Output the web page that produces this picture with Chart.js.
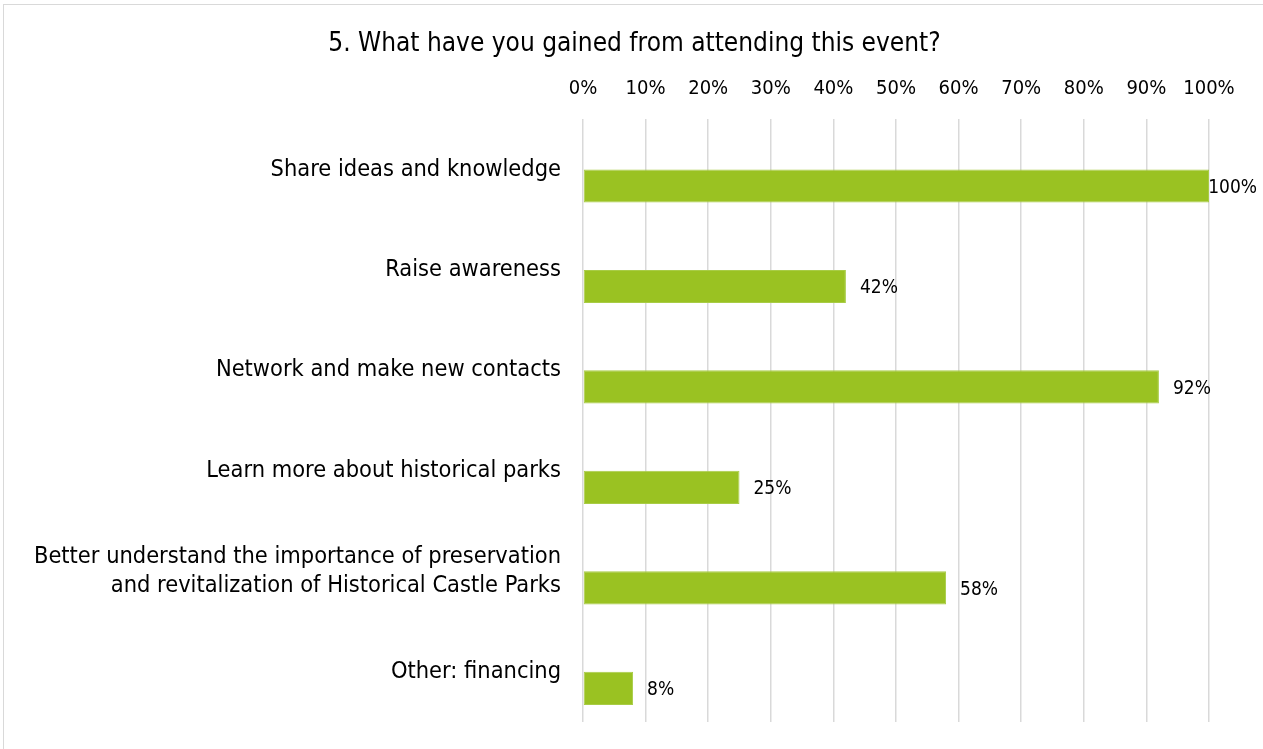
<!DOCTYPE html>
<html lang="en">
<head>
  <meta charset="UTF-8">
  <title>What have you gained from attending this event?</title>
  <script src="https://cdn.jsdelivr.net/npm/chart.js"></script>
  <style>
    html, body {
      margin: 0;
      padding: 0;
      background: #fff;
      overflow: hidden;
    }
    .frame {
      position: absolute;
      left: 3px;
      top: 4px;
      width: 1300px;
      height: 800px;
      border: 1px solid #d9d9d9;
    }
    .box {
      position: absolute;
      left: 0;
      top: 0;
      width: 1263px;
      height: 749px;
    }
  </style>
</head>
<body>
  <div class="frame"></div>
  <div class="box">
    <canvas id="grafico" width="1263" height="749"></canvas>
  </div>

  <script>
    const categorias = [
      'Share ideas and knowledge',
      'Raise awareness',
      'Network and make new contacts',
      'Learn more about historical parks',
      ['Better understand the importance of preservation', 'and revitalization of Historical Castle Parks'],
      'Other: financing'
    ];
    const percentagens = [100, 42, 92, 25, 58, 8];
    const vazio = [null, null, null, null, null, null];
    const ticksX = [0, 10, 20, 30, 40, 50, 60, 70, 80, 90, 100];

    const fonte = "'DejaVu Sans Condensed', 'DejaVu Sans', sans-serif";

    // rótulos de valor no fim de cada barra
    const rotulosValor = {
      id: 'rotulosValor',
      afterDatasetsDraw(chart) {
        const ctx = chart.ctx;
        const meta = chart.getDatasetMeta(1);
        ctx.save();
        ctx.font = '19px ' + fonte;
        ctx.fillStyle = '#000';
        ctx.textBaseline = 'middle';
        ctx.textAlign = 'left';
        meta.data.forEach((barra, i) => {
          const txt = percentagens[i] + '%';
          const w = ctx.measureText(txt).width;
          let x = barra.x + 14;
          if (x + w > chart.width - 6) x = chart.width - 6 - w;
          ctx.fillText(txt, x, barra.y + 2);
        });
        ctx.restore();
      }
    };

    new Chart(document.getElementById('grafico').getContext('2d'), {
      type: 'bar',
      data: {
        labels: categorias,
        datasets: [
          {
            label: 'vazio',
            data: vazio,
            backgroundColor: 'rgba(0,0,0,0)'
          },
          {
            label: 'Percentagem',
            data: percentagens,
            backgroundColor: '#9AC222',
            borderColor: '#A8CC45',
            borderWidth: 1,
            borderSkipped: false
          }
        ]
      },
      options: {
        indexAxis: 'y',
        responsive: false,
        animation: false,
        maintainAspectRatio: false,
        categoryPercentage: 0.66,
        barPercentage: 1,
        layout: {
          padding: { left: 6, right: 0, top: 0, bottom: 27 }
        },
        plugins: {
          legend: { display: false },
          tooltip: { enabled: false },
          title: {
            display: true,
            text: '5. What have you gained from attending this event?',
            color: '#000',
            font: { family: fonte, size: 26, weight: 'normal', lineHeight: 1.2 },
            padding: { top: 29, bottom: 17 }
          }
        },
        scales: {
          x: {
            position: 'top',
            min: 0,
            max: 100,
            afterBuildTicks(scale) {
              scale.ticks = ticksX.map(v => ({ value: v }));
            },
            afterFit(scale) {
              scale.height = 42;
            },
            grid: {
              color: '#d9d9d9',
              lineWidth: 1.5,
              drawTicks: false
            },
            border: { display: false },
            ticks: {
              color: '#000',
              padding: 18,
              maxRotation: 0,
              font: { family: fonte, size: 20, lineHeight: 1.2 },
              callback: v => v + '%'
            }
          },
          y: {
            grid: { display: false, drawTicks: false },
            border: { display: false },
            afterFit(scale) {
              scale.width = 577;
              scale.paddingTop = 0;
              scale.paddingBottom = 0;
            },
            ticks: {
              color: '#000',
              padding: 22,
              font: { family: fonte, size: 23.4, lineHeight: 1.25 }
            }
          },
          // eixo vazio à direita, só para reservar espaço para os rótulos
          yDireita: {
            type: 'category',
            axis: 'y',
            position: 'right',
            grid: { display: false, drawTicks: false },
            border: { display: false },
            ticks: { display: false },
            afterFit(scale) {
              scale.width = 54;
              scale.paddingTop = 0;
              scale.paddingBottom = 0;
            }
          }
        }
      },
      plugins: [rotulosValor]
    });
  </script>
</body>
</html>
